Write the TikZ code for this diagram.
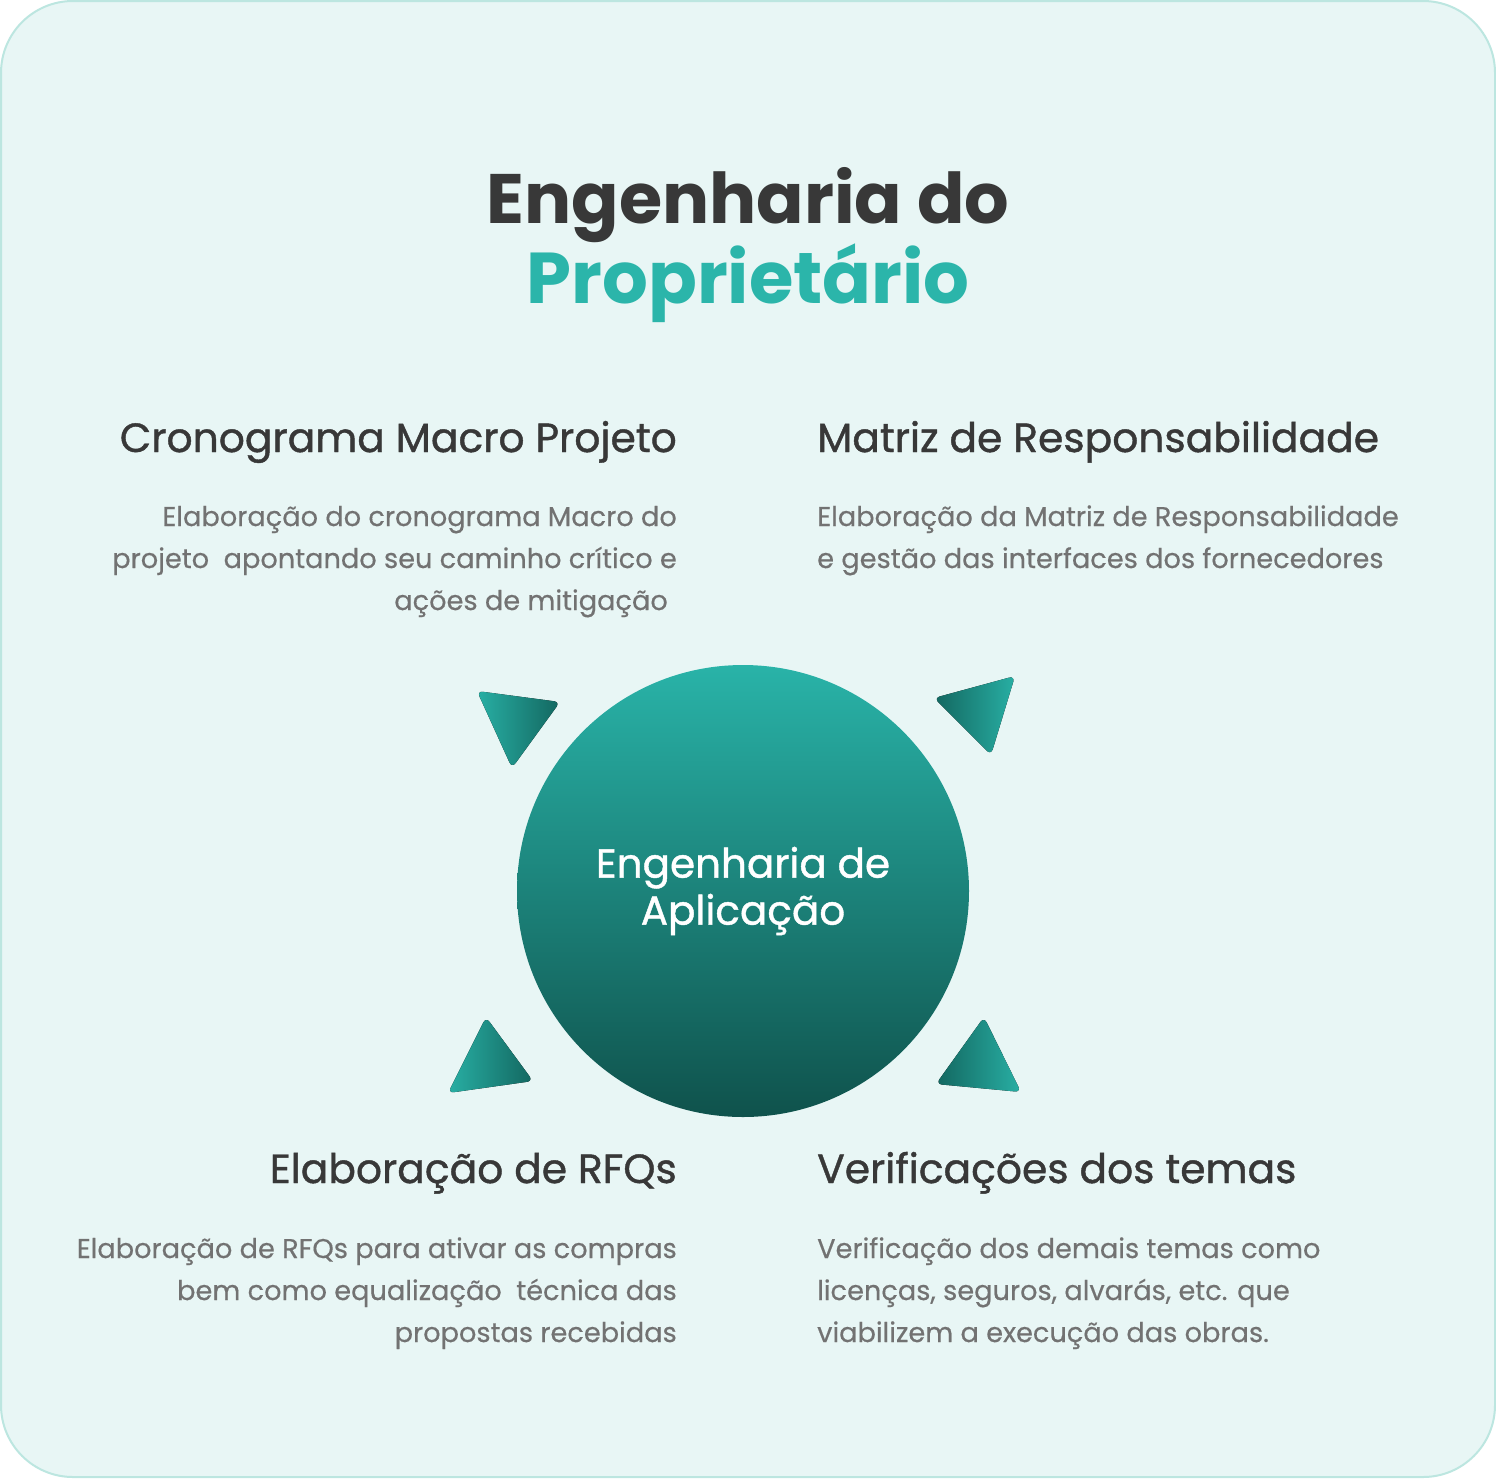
\documentclass[tikz,border=0pt]{standalone}
\usepackage{fontspec}
\setmainfont{Poppins}
\newfontfamily\medfont[FakeBold=1]{Poppins}
\newfontfamily\bodyfont[FakeBold=0.4]{Poppins}
\definecolor{bgc}{HTML}{E8F6F5}
\definecolor{bdc}{HTML}{BCE6E0}
\definecolor{darkc}{HTML}{383838}
\definecolor{tealc}{HTML}{2BB5AA}
\definecolor{grayc}{HTML}{727272}
\definecolor{ctop}{HTML}{29B3A8}
\definecolor{cmid}{HTML}{1C877E}
\definecolor{cbot}{HTML}{0F524C}
\definecolor{tlight}{HTML}{28AFA4}
\definecolor{tdark}{HTML}{136760}
\tikzset{
  head/.style={font=\medfont\fontsize{40.8}{50}\selectfont, text=darkc, inner sep=0pt},
  body/.style={font=\bodyfont\fontsize{27.2}{42}\selectfont, text=grayc, inner sep=0pt},
  tri/.style={rounded corners=6pt},
}
\begin{document}
\begin{tikzpicture}[x=1pt,y=-1pt]
\useasboundingbox (0,0) rectangle (1496,1478);
\fill[white] (0,0) rectangle (1496,1478);
\draw[bdc, fill=bgc, line width=2pt, rounded corners=72pt] (1,1) rectangle (1495,1477);

% title
\node[font=\bfseries\fontsize{70}{74}\selectfont, text=darkc, anchor=base, inner sep=0pt] (t1) at (748,223) {Engenharia do};
\node[font=\bfseries\fontsize{72}{76}\selectfont, text=tealc, anchor=base, inner sep=0pt] (t2) at (748,303) {Proprietário};

% top-left block
\node[head, anchor=base east] (h1) at (677,452) {Cronograma Macro Projeto};
\node[body, anchor=base east] (b1a) at (677,526) {Elaboração do cronograma Macro do};
\node[body, anchor=base east] (b1b) at (677,568) {projeto\ \ apontando seu caminho crítico e};
\node[body, anchor=base east] (b1c) at (668,610) {ações de mitigação};

% top-right block
\node[head, anchor=base west] (h2) at (817,452) {Matriz de Responsabilidade};
\node[body, anchor=base west] (b2a) at (817,526) {Elaboração da Matriz de Responsabilidade};
\node[body, anchor=base west] (b2b) at (817,568) {e gestão das interfaces dos fornecedores};

% bottom-left block
\node[head, anchor=base east] (h3) at (677,1183) {Elaboração de RFQs};
\node[body, anchor=base east] (b3a) at (677,1258) {Elaboração de RFQs para ativar as compras};
\node[body, anchor=base east] (b3b) at (677,1300) {bem como equalização\ \ técnica das};
\node[body, anchor=base east] (b3c) at (677,1342) {propostas recebidas};

% bottom-right block
\node[head, anchor=base west] (h4) at (817,1183) {Verificações dos temas};
\node[body, anchor=base west] (b4a) at (817,1258) {Verificação dos demais temas como};
\node[body, anchor=base west] (b4b) at (817,1300) {licenças, seguros, alvarás, etc. que};
\node[body, anchor=base west] (b4c) at (817,1342) {viabilizem a execução das obras.};

% hub
\node[circle, minimum size=452pt, inner sep=0pt, top color=ctop, middle color=cmid, bottom color=cbot,
      font=\medfont\fontsize{40.5}{47}\selectfont, text=white, align=center] (hub) at (743,891)
      {Engenharia de\\Aplicação};

% triangles
\fill[tri, left color=tlight, right color=tdark] (477,691) -- (560,702) -- (512,768) -- cycle;
\fill[tri, left color=tdark, right color=tlight] (934,698) -- (1015,676) -- (991,755) -- cycle;
\fill[tri, left color=tlight, right color=tdark] (486,1017) -- (533,1081) -- (448,1093) -- cycle;
\fill[tri, left color=tdark, right color=tlight] (984,1017) -- (1021,1092) -- (936,1084) -- cycle;
\end{tikzpicture}
\end{document}
